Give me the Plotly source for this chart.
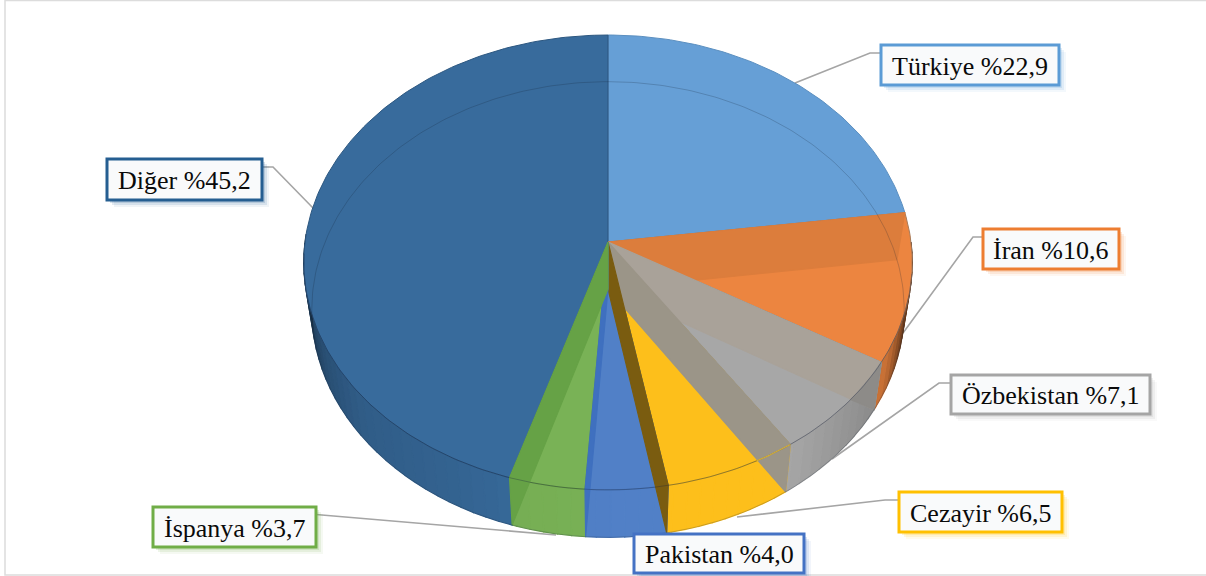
import numpy as np
import plotly.graph_objects as go

# ---- data ----
countries = ["Türkiye", "İran", "Özbekistan", "Cezayir", "Pakistan", "İspanya", "Diğer"]
shares = [22.9, 10.6, 7.1, 6.5, 4.0, 3.7, 45.2]
label_values = ["%22,9", "%10,6", "%7,1", "%6,5", "%4,0", "%3,7", "%45,2"]

# ---- styles ----
top_colors = ["#669fd6", "#ec8540", "#a7a7a7", "#fdbf1b", "#5180c7", "#79b256", "#386b9c"]
wall_colors = [None, "#dc7d3c", "#a9a299", "#9b9588", "#7a5c10", "#3f70bf", "#66a246"]
wall_rim_colors = [None, None, "#8d8b88", None, None, None, None]
wall_rim_lines = [None, None, None, "#d3ad35", None, None, None]
edge_colors = ["#5b8fc0", "#a87a58", "#8f8f8f", "#c9a020", "#4470b0", "#5f9440", "#2c5780"]
box_colors = ["#5b9bd5", "#ed7d31", "#a5a5a5", "#ffc000", "#4472c4", "#70ad47", "#255e91"]
box_rects = [(881, 45, 1059, 85), (983, 229, 1119, 269), (951, 375, 1150, 414),
             (899, 492, 1062, 532), (634, 534, 804, 573), (153, 507, 316, 547), (107, 159, 262, 200)]
leaders = [[(881, 53), (870, 53), (795, 83)], [(983, 237), (973, 237), (903, 333)],
           [(951, 383), (939, 383), (832, 459)], [(899, 500), (885, 500), (737, 517)],
           None, [(316, 514.5), (556, 535)], [(262, 167), (273, 167), (313, 208)]]

TOP = dict(cx=608, cy=242, R=303, a=225.6, b=0.09)
BOT = dict(cx=608, cy=289, R=295, a=226, b=0.09)
SHADE_ANGLES = [90, 100, 110, 118, 125, 135, 146, 180, 197, 210, 230, 245, 255, 262, 272]
SHADE_VALUES = [.2, .3, .55, .85, .85, .92, 1.0, 1.0, .98, .92, .87, .75, .6, .45, .35]


def proj(theta, disc, r=1.0):
    t = np.radians(theta)
    w = 1 + disc["b"] * r * np.cos(t)
    return disc["cx"] + disc["R"] * r * np.sin(t) / w, disc["cy"] - disc["a"] * r * np.cos(t) / w


def shade(hex_color, f):
    rgb = [int(hex_color[i:i + 2], 16) for i in (1, 3, 5)]
    return "rgb(%d,%d,%d)" % tuple(int(v * f) for v in rgb)


def poly(xs, ys, fill, line=None, width=0, name=""):
    return go.Scatter(x=list(xs) + [xs[0]], y=list(ys) + [ys[0]], mode="lines", fill="toself",
                      fillcolor=fill, line=dict(color=line or fill, width=width or 1.2),
                      hoverinfo="skip", showlegend=False, name=name)


def rim_arc_to_wall_edge(theta):
    """Top-rim arc from theta up to where the wall's lower edge crosses it."""
    bx, by = proj(theta, BOT)
    ts = np.arange(theta, theta + 40, 0.25)
    x, y = proj(ts, TOP)
    side = (bx - BOT["cx"]) * (y - BOT["cy"]) - (by - BOT["cy"]) * (x - BOT["cx"])
    k = int(np.argmax(np.sign(side) != np.sign(side[1])))
    return x[:k + 1], y[:k + 1]


fig = go.Figure()

edges = 360 * np.concatenate([[0], np.cumsum(shares)]) / np.sum(shares)

# leader lines under the pie
for lead in leaders:
    if lead:
        fig.add_trace(go.Scatter(x=[p[0] for p in lead], y=[p[1] for p in lead], mode="lines",
                                 line=dict(color="#a5a5a5", width=1.6), hoverinfo="skip", showlegend=False))

# outer wall, in thin shaded strips
for i, col in enumerate(top_colors):
    lo, hi = max(edges[i], 90), min(edges[i + 1], 272)
    if hi <= lo:
        continue
    steps = np.arange(lo, hi, 2.5).tolist() + [hi]
    for t0, t1 in zip(steps[:-1], steps[1:]):
        ts = np.linspace(t0, t1, 4)
        xt, yt = proj(ts, TOP)
        xb, yb = proj(ts[::-1], BOT)
        c = shade(col, float(np.interp((t0 + t1) / 2, SHADE_ANGLES, SHADE_VALUES)))
        fig.add_trace(poly(np.r_[xt, xb], np.r_[yt, yb], c, name=countries[i]))

# top faces
for i, col in enumerate(top_colors):
    ts = np.arange(edges[i], edges[i + 1] + 0.5, 1.0)
    ts[-1] = edges[i + 1]
    x, y = proj(ts, TOP)
    fig.add_trace(poly(np.r_[TOP["cx"], x], np.r_[TOP["cy"], y], col, line=edge_colors[i], width=1, name=countries[i]))

# radial inner walls seen through the translucent top
for i, col in enumerate(wall_colors):
    if col is None:
        continue
    x1, y1 = proj(edges[i], TOP)
    x2, y2 = proj(edges[i], BOT)
    fig.add_trace(poly([TOP["cx"], x1, x2, BOT["cx"]], [TOP["cy"], y1, y2, BOT["cy"]], col, name=countries[i]))
    if wall_rim_colors[i]:
        ax, ay = rim_arc_to_wall_edge(edges[i])
        fig.add_trace(poly(np.r_[ax, x2], np.r_[ay, y2], wall_rim_colors[i], name=countries[i]))

# rim lines seen through the top
ts = np.arange(0, 361, 1.0)
x, y = proj(ts, BOT)
fig.add_trace(go.Scatter(x=x, y=y, mode="lines", line=dict(color="rgba(20,30,50,0.22)", width=1),
                         hoverinfo="skip", showlegend=False))
ts = np.arange(98, 268, 1.0)
x, y = proj(ts, TOP)
fig.add_trace(go.Scatter(x=x, y=y, mode="lines", line=dict(color="rgba(20,30,60,0.3)", width=1),
                         hoverinfo="skip", showlegend=False))
for i, col in enumerate(wall_rim_lines):
    if col:
        ax, ay = rim_arc_to_wall_edge(edges[i])
        fig.add_trace(go.Scatter(x=ax, y=ay, mode="lines", line=dict(color=col, width=1.2),
                                 hoverinfo="skip", showlegend=False))

# label boxes
shapes = [dict(type="rect", xref="x", yref="y", x0=5, x1=1212, y0=0.5, y1=575,
               line=dict(color="#dcdcdc", width=1.5), layer="below")]
annotations = []
for name, val, color, (x0, y0, x1, y1) in zip(countries, label_values, box_colors, box_rects):
    for off, op in ((7, 0.07), (5, 0.12), (3, 0.18)):
        shapes.append(dict(type="rect", xref="x", yref="y", x0=x0 + off, x1=x1 + off, y0=y0 + off, y1=y1 + off,
                           fillcolor=color, opacity=op, line=dict(width=0)))
    shapes.append(dict(type="rect", xref="x", yref="y", x0=x0, x1=x1, y0=y0, y1=y1,
                       fillcolor="#f9fafb", line=dict(color=color, width=3)))
    annotations.append(dict(x=(x0 + x1) / 2, y=(y0 + y1) / 2 + 1, xref="x", yref="y", showarrow=False,
                            text=f"{name} {val}", font=dict(family="Liberation Serif", size=26, color="#0a0a0a")))

fig.update_layout(width=1206, height=576, margin=dict(l=0, r=0, t=0, b=0), autosize=False,
                  paper_bgcolor="white", plot_bgcolor="white", showlegend=False,
                  shapes=shapes, annotations=annotations,
                  xaxis=dict(range=[0, 1206], visible=False, fixedrange=True),
                  yaxis=dict(range=[576, 0], visible=False, fixedrange=True))
fig.write_html("out.html", config={"displayModeBar": False},
               post_script="document.body.style.margin='0';document.documentElement.style.overflow='hidden';")
